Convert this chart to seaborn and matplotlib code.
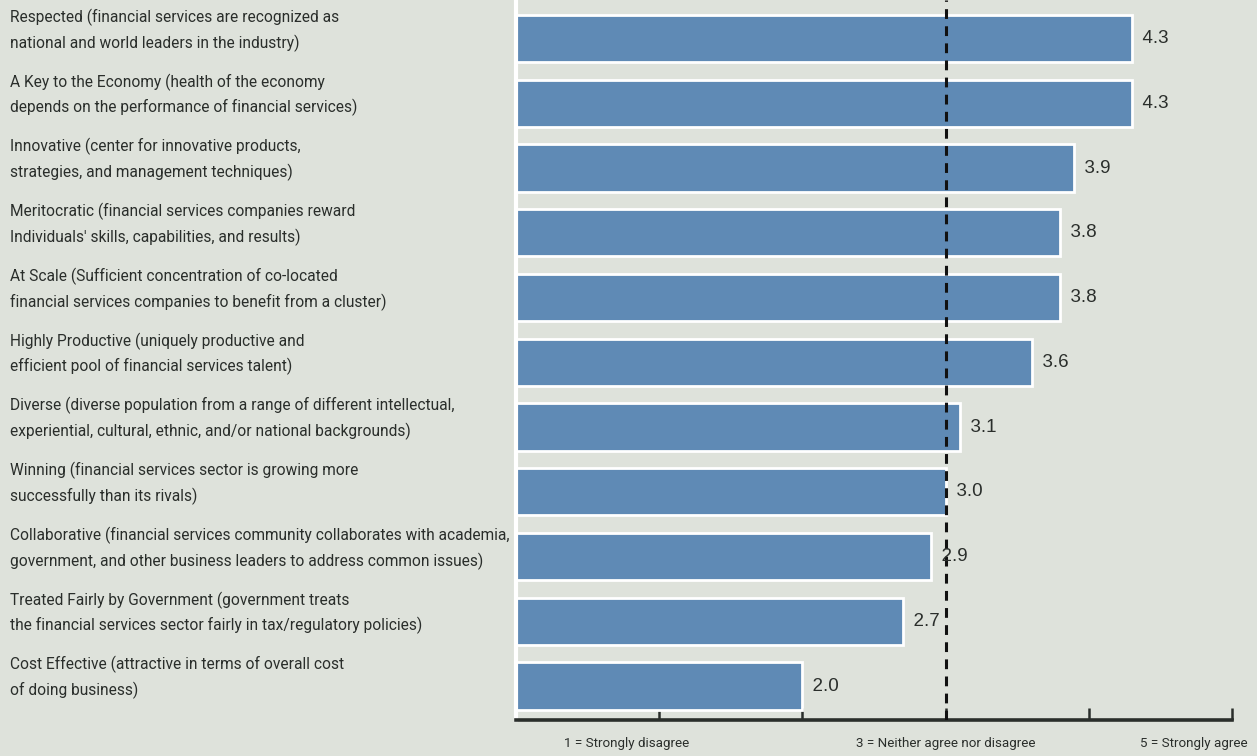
import matplotlib
matplotlib.use("Agg")
import matplotlib.pyplot as plt
import matplotlib.transforms as mtransforms
from matplotlib import font_manager
import seaborn as sns
import pandas as pd

# Survey attributes and their average agreement scores (1-5 scale)
attributes = [
    "Respected", "A Key to the Economy", "Innovative", "Meritocratic", "At Scale",
    "Highly Productive", "Diverse", "Winning", "Collaborative",
    "Treated Fairly by Government", "Cost Effective",
]
descriptions = [
    "Respected (financial services are recognized as\nnational and world leaders in the industry)",
    "A Key to the Economy (health of the economy\ndepends on the performance of financial services)",
    "Innovative (center for innovative products,\nstrategies, and management techniques)",
    "Meritocratic (financial services companies reward\nIndividuals' skills, capabilities, and results)",
    "At Scale (Sufficient concentration of co-located\nfinancial services companies to benefit from a cluster)",
    "Highly Productive (uniquely productive and\nefficient pool of financial services talent)",
    "Diverse (diverse population from a range of different intellectual,\nexperiential, cultural, ethnic, and/or national backgrounds)",
    "Winning (financial services sector is growing more\nsuccessfully than its rivals)",
    "Collaborative (financial services community collaborates with academia,\ngovernment, and other business leaders to address common issues)",
    "Treated Fairly by Government (government treats\nthe financial services sector fairly in tax/regulatory policies)",
    "Cost Effective (attractive in terms of overall cost\nof doing business)",
]
scores = [4.3, 4.3, 3.9, 3.8, 3.8, 3.6, 3.1, 3.0, 2.9, 2.7, 2.0]
scale_ticks = [1, 2, 3, 4, 5]
scale_labels = {1: "1 = Strongly disagree", 3: "3 = Neither agree nor disagree", 5: "5 = Strongly agree"}
neutral = 3

installed = {f.name for f in font_manager.fontManager.ttflist}
narrow = "Liberation Sans Narrow" if "Liberation Sans Narrow" in installed else "Roboto"

paper = "#dee2db"
bar_color = "#5f8ab5"
ink = "#2a2e2b"

sns.set_theme(style="white")
plt.rcParams["font.family"] = ["Liberation Sans", "DejaVu Sans"]

W, H = 1257, 756
axis_y = 720
fig = plt.figure(figsize=(W / 100, H / 100), dpi=100, facecolor=paper)
ax = fig.add_axes([516 / W, 1 - axis_y / H, (1232 - 516) / W, axis_y / H])
ax.set_facecolor(paper)

df = pd.DataFrame({"attribute": attributes, "score": scores})
sns.barplot(data=df, x="score", y="attribute", orient="h", color=bar_color,
            saturation=1, edgecolor="white", linewidth=2, width=0.73, ax=ax)

ax.set_xlim(0, 5)
ax.set_ylim(len(attributes) - 1 + 0.525, -0.595)

# neutral reference line
ax.axvline(neutral, color="#111111", lw=2.2, dashes=(3.2, 2.4), zorder=5)

# value labels
for i, v in enumerate(scores):
    ax.text(v, i, f"  {v:.1f}", va="center", ha="left", fontsize=13.5,
            color=ink, zorder=6)

# attribute descriptions in the left margin
trans = mtransforms.blended_transform_factory(fig.transFigure, ax.transData)
for i, d in enumerate(descriptions):
    ax.text(10 / W, i - 0.13, d, transform=trans, ha="left", va="center",
            fontsize=11.2, family=[narrow, "DejaVu Sans"], color=ink,
            linespacing=1.64, clip_on=False)

# spines and ticks
for s in ["top", "right"]:
    ax.spines[s].set_visible(False)
ax.spines["left"].set_color("white")
ax.spines["left"].set_linewidth(3)
ax.spines["bottom"].set_color(ink)
ax.spines["bottom"].set_linewidth(2.6)
ax.set_yticks([])
ax.set_xticks(scale_ticks)
ax.set_xticklabels([])
ax.tick_params(axis="x", direction="in", length=9, width=1.8, color=ink, bottom=True)
ax.set_xlabel("")
ax.set_ylabel("")

# scale anchors under the axis
xtrans = mtransforms.blended_transform_factory(ax.transData, fig.transFigure)
anchor_pos = {1: (0.77, "center"), 3: (3.0, "center"), 5: (5.11, "right")}
for k, lab in scale_labels.items():
    x, ha = anchor_pos[k]
    ax.text(x, 1 - 744 / H, lab, transform=xtrans, ha=ha, va="center",
            fontsize=9.6, family=[narrow, "DejaVu Sans"], color=ink, clip_on=False)

fig.savefig("out.png", dpi=100, facecolor=paper)
